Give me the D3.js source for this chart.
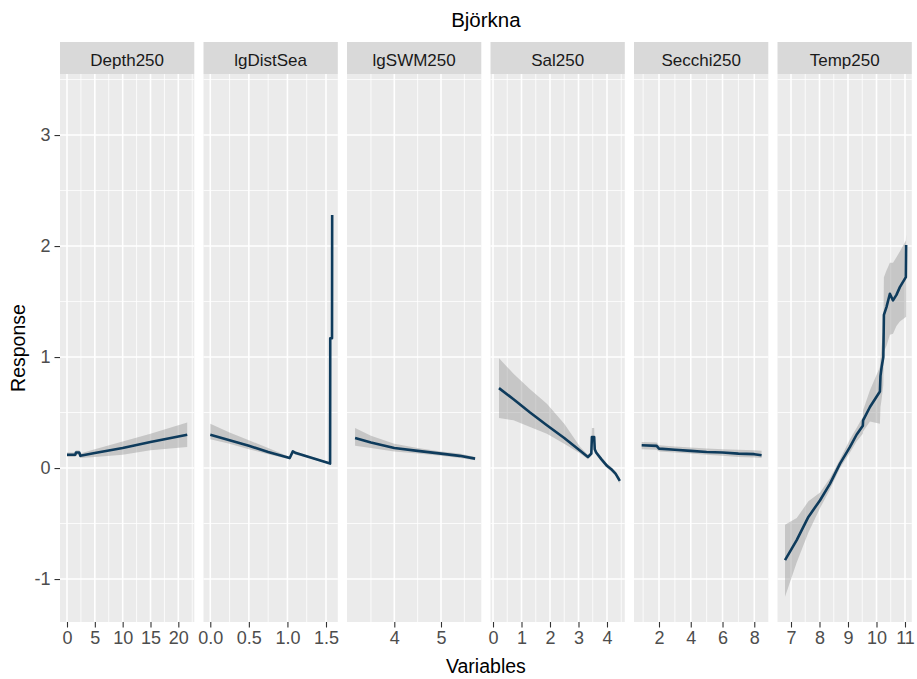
<!DOCTYPE html>
<html>
<head>
<meta charset="utf-8">
<script src="https://cdn.jsdelivr.net/npm/d3@7"></script>
<style>
body { margin: 0; background: #fff; }
text { font-family: Arial, "Liberation Sans", sans-serif; }
</style>
</head>
<body>
<div id="chart"></div>
<script>
// facet names
const variables = ["Depth250", "lgDistSea", "lgSWM250", "Sal250", "Secchi250", "Temp250"];

// Depth250
const depthX  = [0, 1.5, 1.6, 2.2, 2.4, 5, 10, 15, 21.6];
const depthY  = [0.12, 0.12, 0.14, 0.14, 0.11, 0.135, 0.18, 0.235, 0.30];
const depthLo = [0.10, 0.10, 0.12, 0.12, 0.09, 0.10, 0.12, 0.16, 0.19];
const depthHi = [0.14, 0.14, 0.16, 0.16, 0.13, 0.17, 0.24, 0.31, 0.41];

// lgDistSea
const distX  = [0, 0.25, 0.5, 0.75, 1.03, 1.07, 1.11, 1.3, 1.553, 1.555, 1.578, 1.580];
const distY  = [0.30, 0.25, 0.20, 0.145, 0.09, 0.15, 0.135, 0.095, 0.04, 1.17, 1.17, 2.28];
const distLo = [0.26, 0.22, 0.17, 0.125, 0.08, 0.13, 0.12, 0.085, 0.035, 1.17, 1.17, 2.28];
const distHi = [0.40, 0.32, 0.25, 0.18, 0.10, 0.16, 0.15, 0.105, 0.05, 1.17, 1.17, 2.28];

// lgSWM250
const swmX  = [3.16, 3.5, 4.0, 4.5, 5.0, 5.4, 5.73];
const swmY  = [0.27, 0.23, 0.18, 0.155, 0.13, 0.11, 0.085];
const swmLo = [0.20, 0.18, 0.15, 0.13, 0.11, 0.09, 0.07];
const swmHi = [0.36, 0.29, 0.22, 0.18, 0.15, 0.13, 0.10];

// Sal250
const salX  = [0.21, 0.72, 1.3, 1.89, 2.5, 3.06, 3.33, 3.45, 3.47, 3.55, 3.57, 3.62, 3.8, 4.0, 4.15, 4.3, 4.45];
const salY  = [0.72, 0.62, 0.50, 0.385, 0.27, 0.155, 0.10, 0.13, 0.28, 0.28, 0.17, 0.14, 0.08, 0.02, -0.01, -0.05, -0.115];
const salLo = [0.45, 0.43, 0.37, 0.31, 0.22, 0.13, 0.08, 0.11, 0.24, 0.24, 0.14, 0.12, 0.06, 0.0, -0.03, -0.07, -0.14];
const salHi = [0.99, 0.85, 0.71, 0.58, 0.40, 0.19, 0.12, 0.15, 0.36, 0.36, 0.19, 0.16, 0.10, 0.04, 0.01, -0.03, -0.09];

// Secchi250
const secX  = [0.91, 1.85, 2.0, 3.0, 4.0, 5.0, 6.0, 7.0, 8.0, 8.46];
const secY  = [0.205, 0.20, 0.175, 0.165, 0.155, 0.145, 0.14, 0.13, 0.125, 0.115];
const secLo = [0.17, 0.165, 0.15, 0.14, 0.13, 0.12, 0.11, 0.10, 0.095, 0.09];
const secHi = [0.235, 0.23, 0.205, 0.195, 0.185, 0.175, 0.17, 0.165, 0.16, 0.155];

// Temp250
const tempX  = [6.79, 7.2, 7.61, 8.02, 8.37, 8.72, 9.07, 9.3, 9.52, 9.53, 9.77, 10.12, 10.14, 10.18, 10.24, 10.26, 10.35, 10.47, 10.58, 10.7, 10.82, 11.03, 11.04];
const tempY  = [-0.83, -0.65, -0.44, -0.29, -0.14, 0.04, 0.19, 0.30, 0.38, 0.43, 0.55, 0.69, 0.83, 0.91, 1.0, 1.38, 1.45, 1.57, 1.51, 1.56, 1.63, 1.72, 2.01];
const tempLo = [-1.16, -0.85, -0.58, -0.36, -0.19, 0.0, 0.14, 0.24, 0.31, 0.33, 0.42, 0.40, 0.55, 0.62, 0.75, 1.05, 1.10, 1.20, 1.21, 1.28, 1.32, 1.36, 1.36];
const tempHi = [-0.51, -0.45, -0.30, -0.22, -0.09, 0.08, 0.26, 0.36, 0.46, 0.52, 0.70, 0.91, 0.98, 1.10, 1.25, 1.72, 1.78, 1.85, 1.85, 1.90, 1.95, 2.05, 2.10];

// tick labels
const depthTicks = [0, 5, 10, 15, 20];
const distTicks = [0, 0.5, 1, 1.5];
const swmTicks = [4, 5];
const salTicks = [0, 1, 2, 3, 4];
const secTicks = [2, 4, 6, 8];
const tempTicks = [7, 8, 9, 10, 11];
const yTicks = [-1, 0, 1, 2, 3];

const plain = d => String(d);

const panels = [
  {x: depthX, y: depthY, lo: depthLo, hi: depthHi, ticks: depthTicks, domain: [-1.258, 22.87], fmt: plain},
  {x: distX, y: distY, lo: distLo, hi: distHi, ticks: distTicks, domain: [-0.088, 1.653], fmt: d3.format(".1f")},
  {x: swmX, y: swmY, lo: swmLo, hi: swmHi, ticks: swmTicks, domain: [2.987, 5.863], fmt: plain},
  {x: salX, y: salY, lo: salLo, hi: salHi, ticks: salTicks, domain: [-0.088, 4.625], fmt: plain},
  {x: secX, y: secY, lo: secLo, hi: secHi, ticks: secTicks, domain: [0.426, 8.883], fmt: plain},
  {x: tempX, y: tempY, lo: tempLo, hi: tempHi, ticks: tempTicks, domain: [6.526, 11.239], fmt: plain}
];

const W = 917, H = 679;
const plotLeft = 60, plotTop = 74, plotBottom = 622;
const panelW = 134.3, gap = 9.2, stripH = 32;

const svg = d3.select("#chart").append("svg")
  .attr("width", W).attr("height", H);
svg.append("rect").attr("width", W).attr("height", H).attr("fill", "#fff");

const y = d3.scaleLinear().domain([-1.387, 3.55]).range([plotBottom, plotTop]);

// ggplot-style minor breaks: midpoints of majors, extended past the ends
function minorBreaks(b, dom) {
  const step = b[1] - b[0];
  let ext = b.slice();
  if (dom[0] < b[0]) ext.unshift(b[0] - step);
  if (dom[1] > b[b.length - 1]) ext.push(b[b.length - 1] + step);
  const out = [];
  for (let i = 0; i < ext.length - 1; i++) out.push((ext[i] + ext[i + 1]) / 2);
  return out.filter(v => v > dom[0] && v < dom[1]);
}

const yMinor = minorBreaks(yTicks, y.domain());

panels.forEach((p, i) => {
  const x0 = plotLeft + i * (panelW + gap);
  const x = d3.scaleLinear().domain(p.domain).range([x0, x0 + panelW]);
  const g = svg.append("g");

  g.append("rect")
    .attr("x", x0).attr("y", plotTop)
    .attr("width", panelW).attr("height", plotBottom - plotTop)
    .attr("fill", "#EBEBEB");

  // minor grid
  g.selectAll(".ymin").data(yMinor).enter().append("line")
    .attr("x1", x0).attr("x2", x0 + panelW)
    .attr("y1", d => y(d)).attr("y2", d => y(d))
    .attr("stroke", "#fff").attr("stroke-width", 0.8);
  g.selectAll(".xmin").data(minorBreaks(p.ticks, p.domain)).enter().append("line")
    .attr("x1", d => x(d)).attr("x2", d => x(d))
    .attr("y1", plotTop).attr("y2", plotBottom)
    .attr("stroke", "#fff").attr("stroke-width", 0.8);
  // major grid
  g.selectAll(".ymaj").data(yTicks).enter().append("line")
    .attr("x1", x0).attr("x2", x0 + panelW)
    .attr("y1", d => y(d)).attr("y2", d => y(d))
    .attr("stroke", "#fff").attr("stroke-width", 1.6);
  g.selectAll(".xmaj").data(p.ticks).enter().append("line")
    .attr("x1", d => x(d)).attr("x2", d => x(d))
    .attr("y1", plotTop).attr("y2", plotBottom)
    .attr("stroke", "#fff").attr("stroke-width", 1.6);

  const pts = p.x.map((v, k) => ({x: v, y: p.y[k], lo: p.lo[k], hi: p.hi[k]}));

  const area = d3.area()
    .x(d => x(d.x)).y0(d => y(d.lo)).y1(d => y(d.hi));
  const line = d3.line()
    .x(d => x(d.x)).y(d => y(d.y));

  g.append("path").datum(pts)
    .attr("d", area)
    .attr("fill", "#999999").attr("fill-opacity", 0.45);
  g.append("path").datum(pts)
    .attr("d", line)
    .attr("fill", "none")
    .attr("stroke", "#0E3B5C")
    .attr("stroke-width", 2.6)
    .attr("stroke-linejoin", "round");

  // strip
  g.append("rect")
    .attr("x", x0).attr("y", plotTop - stripH)
    .attr("width", panelW).attr("height", stripH)
    .attr("fill", "#D9D9D9");
  g.append("text")
    .attr("x", x0 + panelW / 2).attr("y", plotTop - 8)
    .attr("text-anchor", "middle")
    .attr("font-size", "17px")
    .attr("fill", "#1A1A1A")
    .text(variables[i]);

  // x axis
  const ax = g.append("g")
    .attr("transform", "translate(0," + plotBottom + ")")
    .call(d3.axisBottom(x).tickValues(p.ticks).tickFormat(p.fmt).tickSize(5.5).tickPadding(4));
  ax.select(".domain").remove();
  ax.selectAll("line").attr("stroke", "#333").attr("stroke-width", 1.1);
  ax.selectAll("text").attr("font-size", "18px").attr("fill", "#4D4D4D")
    .attr("font-family", "Arial, 'Liberation Sans', sans-serif");
});

// y axis
const ay = svg.append("g")
  .attr("transform", "translate(" + plotLeft + ",0)")
  .call(d3.axisLeft(y).tickValues(yTicks).tickFormat(plain).tickSize(5.5).tickPadding(4));
ay.select(".domain").remove();
ay.selectAll("line").attr("stroke", "#333").attr("stroke-width", 1.1);
ay.selectAll("text").attr("font-size", "18px").attr("fill", "#4D4D4D")
  .attr("font-family", "Arial, 'Liberation Sans', sans-serif");

const midX = plotLeft + (6 * panelW + 5 * gap) / 2;

svg.append("text")
  .attr("x", midX).attr("y", 27)
  .attr("text-anchor", "middle")
  .attr("font-size", "20.5px")
  .attr("fill", "#000")
  .text("Björkna");

svg.append("text")
  .attr("x", midX).attr("y", 673)
  .attr("text-anchor", "middle")
  .attr("font-size", "19.5px")
  .attr("fill", "#000")
  .text("Variables");

svg.append("text")
  .attr("transform", "translate(25," + ((plotTop + plotBottom) / 2) + ") rotate(-90)")
  .attr("text-anchor", "middle")
  .attr("font-size", "19.5px")
  .attr("fill", "#000")
  .text("Response");
</script>
</body>
</html>
